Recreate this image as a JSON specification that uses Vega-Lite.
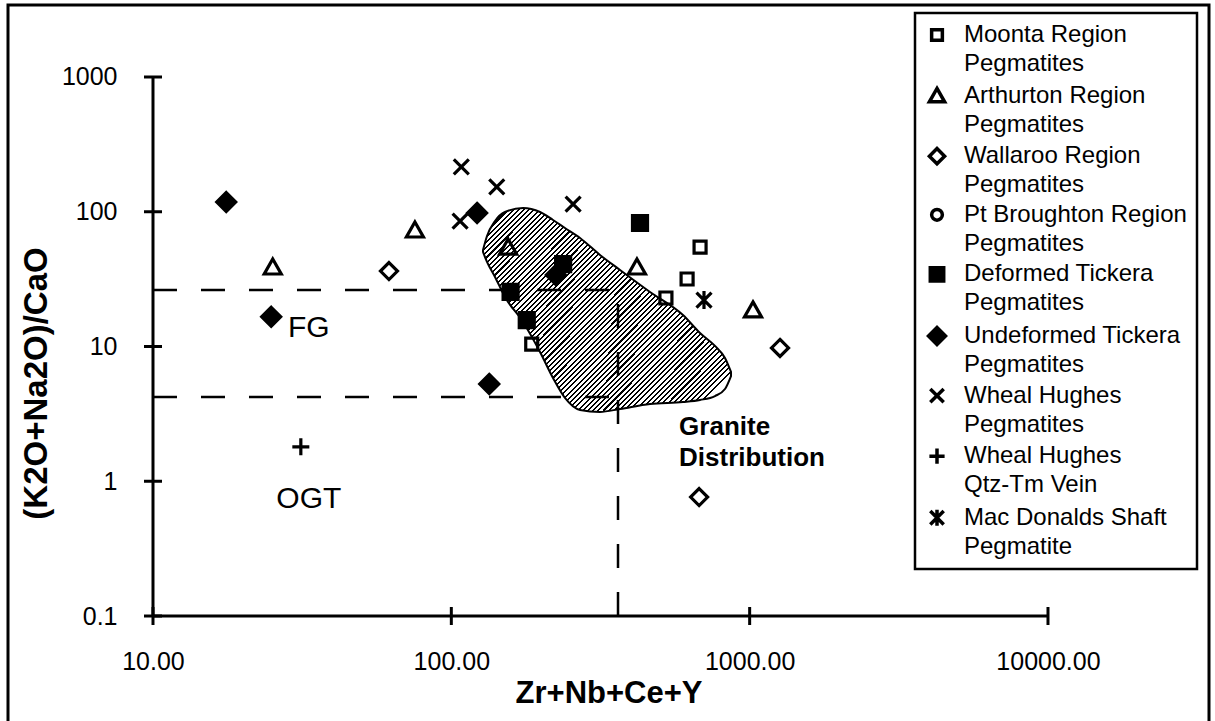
{
"$schema": "https://vega.github.io/schema/vega-lite/v6.json",
"width": 1201, "height": 716,
"autosize": {"type": "none"},
"padding": {"left": 8, "top": 5, "right": 6, "bottom": 0},
"background": "white",
"config": {
  "view": {"stroke": "black", "strokeWidth": 3, "strokeDash": [1917, 1201, 716]},
  "font": "Liberation Sans",
  "style": {"guide-label": {"lineHeight": 29}},
  "axis": {"grid": false, "domain": false, "ticks": false, "tickSize": 0, "labelColor": "black", "titleColor": "black", "labelFont": "Liberation Sans", "titleFont": "Liberation Sans", "labelFontSize": 25, "titleFontSize": 31, "titleFontWeight": "bold", "labelFlush": false, "labelOverlap": false, "labelBound": false},
  "legend": {"padding": 10, "strokeColor": "black", "strokeWidth": 2.5, "fillColor": "white", "labelFont": "Liberation Sans", "labelFontSize": 24, "labelColor": "black", "labelLimit": 400, "labelOffset": 15, "symbolSize": 320, "symbolStrokeWidth": 3.5, "symbolStrokeColor": "black", "rowPadding": 4.6}
},
"datasets": {
  "points": [
    {"series": "Moonta Region Pegmatites", "x": 186, "y": 10.4},
    {"series": "Moonta Region Pegmatites", "x": 524, "y": 22.9},
    {"series": "Moonta Region Pegmatites", "x": 617, "y": 31.7},
    {"series": "Moonta Region Pegmatites", "x": 682, "y": 54.7},
    {"series": "Arthurton Region Pegmatites", "x": 25.2, "y": 38.9},
    {"series": "Arthurton Region Pegmatites", "x": 75.5, "y": 73.2},
    {"series": "Arthurton Region Pegmatites", "x": 155, "y": 54.7},
    {"series": "Arthurton Region Pegmatites", "x": 419, "y": 38.9},
    {"series": "Arthurton Region Pegmatites", "x": 1026, "y": 18.7},
    {"series": "Wallaroo Region Pegmatites", "x": 61.8, "y": 36.3},
    {"series": "Wallaroo Region Pegmatites", "x": 1264, "y": 9.75},
    {"series": "Wallaroo Region Pegmatites", "x": 677, "y": 0.764},
    {"series": "Deformed Tickera Pegmatites", "x": 158, "y": 25.4},
    {"series": "Deformed Tickera Pegmatites", "x": 179, "y": 15.7},
    {"series": "Deformed Tickera Pegmatites", "x": 237, "y": 40.9},
    {"series": "Deformed Tickera Pegmatites", "x": 429, "y": 82.5},
    {"series": "Undeformed Tickera Pegmatites", "x": 17.6, "y": 118},
    {"series": "Undeformed Tickera Pegmatites", "x": 24.9, "y": 16.6},
    {"series": "Undeformed Tickera Pegmatites", "x": 122, "y": 98},
    {"series": "Undeformed Tickera Pegmatites", "x": 134, "y": 5.27},
    {"series": "Undeformed Tickera Pegmatites", "x": 224, "y": 33.9},
    {"series": "Wheal Hughes Pegmatites", "x": 107, "y": 85.3},
    {"series": "Wheal Hughes Pegmatites", "x": 108, "y": 215},
    {"series": "Wheal Hughes Pegmatites", "x": 142, "y": 153},
    {"series": "Wheal Hughes Pegmatites", "x": 256, "y": 114},
    {"series": "Wheal Hughes Qtz-Tm Vein", "x": 31.3, "y": 1.8},
    {"series": "Mac Donalds Shaft Pegmatite", "x": 703, "y": 22.1}
  ],
  "shape": [
    {"x": 127.7, "y": 52.0, "y2": 50.3},
    {"x": 131.7, "y": 66.1, "y2": 42.4},
    {"x": 140.1, "y": 85.4, "y2": 32.8},
    {"x": 151.3, "y": 99.6, "y2": 23.3},
    {"x": 173.9, "y": 106.6, "y2": 15.2},
    {"x": 198.3, "y": 99.6, "y2": 9.1},
    {"x": 219.2, "y": 86.9, "y2": 5.84},
    {"x": 240.4, "y": 75.8, "y2": 4.15},
    {"x": 270.0, "y": 63.9, "y2": 3.38},
    {"x": 315.0, "y": 47.8, "y2": 3.27},
    {"x": 367.7, "y": 37.0, "y2": 3.44},
    {"x": 463.4, "y": 25.4, "y2": 3.74},
    {"x": 597.7, "y": 17.1, "y2": 3.87},
    {"x": 681.6, "y": 12.6, "y2": 4.01},
    {"x": 765.3, "y": 10.1, "y2": 4.29},
    {"x": 826.6, "y": 8.22, "y2": 4.84},
    {"x": 866.0, "y": 6.47, "y2": 6.04}
  ],
  "dash": [
    {"x": 10, "x2": 362, "y": 26.3, "y2": 26.3},
    {"x": 10, "x2": 362, "y": 4.22, "y2": 4.22},
    {"x": 362, "x2": 362, "y": 0.1, "y2": 26.3}
  ],
  "axislines": [
    {"x": 10, "x2": 10000, "y": 0.1, "y2": 0.1},
    {"x": 10, "x2": 10, "y": 0.1, "y2": 1000}
  ],
  "yticks": [{"x": 10, "y": 0.1}, {"x": 10, "y": 1}, {"x": 10, "y": 10}, {"x": 10, "y": 100}, {"x": 10, "y": 1000}],
  "xticks": [{"x": 10, "y": 0.1}, {"x": 100, "y": 0.1}, {"x": 1000, "y": 0.1}, {"x": 10000, "y": 0.1}],
  "notes": [{"label": "FG", "x": 33.3, "y": 13.7}, {"label": "OGT", "x": 33.3, "y": 0.738}],
  "granite": [{"label": "Granite", "x": 580, "y": 2.53}, {"label": "Distribution", "x": 580, "y": 1.49}]
},
"encoding": {
  "x": {"field": "x", "type": "quantitative", "scale": {"type": "log", "domain": [3.2657, 34651], "nice": false, "zero": false},
        "axis": {"orient": "bottom", "offset": -105, "values": [10, 100, 1000, 10000], "format": ".2f", "labelPadding": 33, "title": "Zr+Nb+Ce+Y", "titlePadding": 4}},
  "y": {"field": "y", "type": "quantitative", "scale": {"type": "log", "domain": [0.016628, 3422.1], "nice": false, "zero": false},
        "axis": {"orient": "left", "offset": -145, "values": [0.1, 1, 10, 100, 1000], "format": "~g", "labelPadding": 36, "title": "(K2O+Na2O)/CaO", "titlePadding": 8, "titleFontSize": 33, "titleY": 378}}
},
"layer": [
  {"data": {"name": "shape"},
   "mark": {"type": "area", "interpolate": "monotone", "stroke": "black", "strokeWidth": 2, "opacity": 1,
     "fill": {"gradient": "linear", "x1": 0, "y1": 0, "x2": 1, "y2": 0.82, "stops": [
{"offset":0,"color":"#fff"},{"offset":0,"color":"#000"},{"offset":0.005,"color":"#000"},{"offset":0.005,"color":"#fff"},
{"offset":0.0125,"color":"#fff"},{"offset":0.0125,"color":"#000"},{"offset":0.0175,"color":"#000"},{"offset":0.0175,"color":"#fff"},
{"offset":0.025,"color":"#fff"},{"offset":0.025,"color":"#000"},{"offset":0.03,"color":"#000"},{"offset":0.03,"color":"#fff"},
{"offset":0.0375,"color":"#fff"},{"offset":0.0375,"color":"#000"},{"offset":0.0425,"color":"#000"},{"offset":0.0425,"color":"#fff"},
{"offset":0.05,"color":"#fff"},{"offset":0.05,"color":"#000"},{"offset":0.055,"color":"#000"},{"offset":0.055,"color":"#fff"},
{"offset":0.0625,"color":"#fff"},{"offset":0.0625,"color":"#000"},{"offset":0.0675,"color":"#000"},{"offset":0.0675,"color":"#fff"},
{"offset":0.075,"color":"#fff"},{"offset":0.075,"color":"#000"},{"offset":0.08,"color":"#000"},{"offset":0.08,"color":"#fff"},
{"offset":0.0875,"color":"#fff"},{"offset":0.0875,"color":"#000"},{"offset":0.0925,"color":"#000"},{"offset":0.0925,"color":"#fff"},
{"offset":0.1,"color":"#fff"},{"offset":0.1,"color":"#000"},{"offset":0.105,"color":"#000"},{"offset":0.105,"color":"#fff"},
{"offset":0.1125,"color":"#fff"},{"offset":0.1125,"color":"#000"},{"offset":0.1175,"color":"#000"},{"offset":0.1175,"color":"#fff"},
{"offset":0.125,"color":"#fff"},{"offset":0.125,"color":"#000"},{"offset":0.13,"color":"#000"},{"offset":0.13,"color":"#fff"},
{"offset":0.1375,"color":"#fff"},{"offset":0.1375,"color":"#000"},{"offset":0.1425,"color":"#000"},{"offset":0.1425,"color":"#fff"},
{"offset":0.15,"color":"#fff"},{"offset":0.15,"color":"#000"},{"offset":0.155,"color":"#000"},{"offset":0.155,"color":"#fff"},
{"offset":0.1625,"color":"#fff"},{"offset":0.1625,"color":"#000"},{"offset":0.1675,"color":"#000"},{"offset":0.1675,"color":"#fff"},
{"offset":0.175,"color":"#fff"},{"offset":0.175,"color":"#000"},{"offset":0.18,"color":"#000"},{"offset":0.18,"color":"#fff"},
{"offset":0.1875,"color":"#fff"},{"offset":0.1875,"color":"#000"},{"offset":0.1925,"color":"#000"},{"offset":0.1925,"color":"#fff"},
{"offset":0.2,"color":"#fff"},{"offset":0.2,"color":"#000"},{"offset":0.205,"color":"#000"},{"offset":0.205,"color":"#fff"},
{"offset":0.2125,"color":"#fff"},{"offset":0.2125,"color":"#000"},{"offset":0.2175,"color":"#000"},{"offset":0.2175,"color":"#fff"},
{"offset":0.225,"color":"#fff"},{"offset":0.225,"color":"#000"},{"offset":0.23,"color":"#000"},{"offset":0.23,"color":"#fff"},
{"offset":0.2375,"color":"#fff"},{"offset":0.2375,"color":"#000"},{"offset":0.2425,"color":"#000"},{"offset":0.2425,"color":"#fff"},
{"offset":0.25,"color":"#fff"},{"offset":0.25,"color":"#000"},{"offset":0.255,"color":"#000"},{"offset":0.255,"color":"#fff"},
{"offset":0.2625,"color":"#fff"},{"offset":0.2625,"color":"#000"},{"offset":0.2675,"color":"#000"},{"offset":0.2675,"color":"#fff"},
{"offset":0.275,"color":"#fff"},{"offset":0.275,"color":"#000"},{"offset":0.28,"color":"#000"},{"offset":0.28,"color":"#fff"},
{"offset":0.2875,"color":"#fff"},{"offset":0.2875,"color":"#000"},{"offset":0.2925,"color":"#000"},{"offset":0.2925,"color":"#fff"},
{"offset":0.3,"color":"#fff"},{"offset":0.3,"color":"#000"},{"offset":0.305,"color":"#000"},{"offset":0.305,"color":"#fff"},
{"offset":0.3125,"color":"#fff"},{"offset":0.3125,"color":"#000"},{"offset":0.3175,"color":"#000"},{"offset":0.3175,"color":"#fff"},
{"offset":0.325,"color":"#fff"},{"offset":0.325,"color":"#000"},{"offset":0.33,"color":"#000"},{"offset":0.33,"color":"#fff"},
{"offset":0.3375,"color":"#fff"},{"offset":0.3375,"color":"#000"},{"offset":0.3425,"color":"#000"},{"offset":0.3425,"color":"#fff"},
{"offset":0.35,"color":"#fff"},{"offset":0.35,"color":"#000"},{"offset":0.355,"color":"#000"},{"offset":0.355,"color":"#fff"},
{"offset":0.3625,"color":"#fff"},{"offset":0.3625,"color":"#000"},{"offset":0.3675,"color":"#000"},{"offset":0.3675,"color":"#fff"},
{"offset":0.375,"color":"#fff"},{"offset":0.375,"color":"#000"},{"offset":0.38,"color":"#000"},{"offset":0.38,"color":"#fff"},
{"offset":0.3875,"color":"#fff"},{"offset":0.3875,"color":"#000"},{"offset":0.3925,"color":"#000"},{"offset":0.3925,"color":"#fff"},
{"offset":0.4,"color":"#fff"},{"offset":0.4,"color":"#000"},{"offset":0.405,"color":"#000"},{"offset":0.405,"color":"#fff"},
{"offset":0.4125,"color":"#fff"},{"offset":0.4125,"color":"#000"},{"offset":0.4175,"color":"#000"},{"offset":0.4175,"color":"#fff"},
{"offset":0.425,"color":"#fff"},{"offset":0.425,"color":"#000"},{"offset":0.43,"color":"#000"},{"offset":0.43,"color":"#fff"},
{"offset":0.4375,"color":"#fff"},{"offset":0.4375,"color":"#000"},{"offset":0.4425,"color":"#000"},{"offset":0.4425,"color":"#fff"},
{"offset":0.45,"color":"#fff"},{"offset":0.45,"color":"#000"},{"offset":0.455,"color":"#000"},{"offset":0.455,"color":"#fff"},
{"offset":0.4625,"color":"#fff"},{"offset":0.4625,"color":"#000"},{"offset":0.4675,"color":"#000"},{"offset":0.4675,"color":"#fff"},
{"offset":0.475,"color":"#fff"},{"offset":0.475,"color":"#000"},{"offset":0.48,"color":"#000"},{"offset":0.48,"color":"#fff"},
{"offset":0.4875,"color":"#fff"},{"offset":0.4875,"color":"#000"},{"offset":0.4925,"color":"#000"},{"offset":0.4925,"color":"#fff"},
{"offset":0.5,"color":"#fff"},{"offset":0.5,"color":"#000"},{"offset":0.505,"color":"#000"},{"offset":0.505,"color":"#fff"},
{"offset":0.5125,"color":"#fff"},{"offset":0.5125,"color":"#000"},{"offset":0.5175,"color":"#000"},{"offset":0.5175,"color":"#fff"},
{"offset":0.525,"color":"#fff"},{"offset":0.525,"color":"#000"},{"offset":0.53,"color":"#000"},{"offset":0.53,"color":"#fff"},
{"offset":0.5375,"color":"#fff"},{"offset":0.5375,"color":"#000"},{"offset":0.5425,"color":"#000"},{"offset":0.5425,"color":"#fff"},
{"offset":0.55,"color":"#fff"},{"offset":0.55,"color":"#000"},{"offset":0.555,"color":"#000"},{"offset":0.555,"color":"#fff"},
{"offset":0.5625,"color":"#fff"},{"offset":0.5625,"color":"#000"},{"offset":0.5675,"color":"#000"},{"offset":0.5675,"color":"#fff"},
{"offset":0.575,"color":"#fff"},{"offset":0.575,"color":"#000"},{"offset":0.58,"color":"#000"},{"offset":0.58,"color":"#fff"},
{"offset":0.5875,"color":"#fff"},{"offset":0.5875,"color":"#000"},{"offset":0.5925,"color":"#000"},{"offset":0.5925,"color":"#fff"},
{"offset":0.6,"color":"#fff"},{"offset":0.6,"color":"#000"},{"offset":0.605,"color":"#000"},{"offset":0.605,"color":"#fff"},
{"offset":0.6125,"color":"#fff"},{"offset":0.6125,"color":"#000"},{"offset":0.6175,"color":"#000"},{"offset":0.6175,"color":"#fff"},
{"offset":0.625,"color":"#fff"},{"offset":0.625,"color":"#000"},{"offset":0.63,"color":"#000"},{"offset":0.63,"color":"#fff"},
{"offset":0.6375,"color":"#fff"},{"offset":0.6375,"color":"#000"},{"offset":0.6425,"color":"#000"},{"offset":0.6425,"color":"#fff"},
{"offset":0.65,"color":"#fff"},{"offset":0.65,"color":"#000"},{"offset":0.655,"color":"#000"},{"offset":0.655,"color":"#fff"},
{"offset":0.6625,"color":"#fff"},{"offset":0.6625,"color":"#000"},{"offset":0.6675,"color":"#000"},{"offset":0.6675,"color":"#fff"},
{"offset":0.675,"color":"#fff"},{"offset":0.675,"color":"#000"},{"offset":0.68,"color":"#000"},{"offset":0.68,"color":"#fff"},
{"offset":0.6875,"color":"#fff"},{"offset":0.6875,"color":"#000"},{"offset":0.6925,"color":"#000"},{"offset":0.6925,"color":"#fff"},
{"offset":0.7,"color":"#fff"},{"offset":0.7,"color":"#000"},{"offset":0.705,"color":"#000"},{"offset":0.705,"color":"#fff"},
{"offset":0.7125,"color":"#fff"},{"offset":0.7125,"color":"#000"},{"offset":0.7175,"color":"#000"},{"offset":0.7175,"color":"#fff"},
{"offset":0.725,"color":"#fff"},{"offset":0.725,"color":"#000"},{"offset":0.73,"color":"#000"},{"offset":0.73,"color":"#fff"},
{"offset":0.7375,"color":"#fff"},{"offset":0.7375,"color":"#000"},{"offset":0.7425,"color":"#000"},{"offset":0.7425,"color":"#fff"},
{"offset":0.75,"color":"#fff"},{"offset":0.75,"color":"#000"},{"offset":0.755,"color":"#000"},{"offset":0.755,"color":"#fff"},
{"offset":0.7625,"color":"#fff"},{"offset":0.7625,"color":"#000"},{"offset":0.7675,"color":"#000"},{"offset":0.7675,"color":"#fff"},
{"offset":0.775,"color":"#fff"},{"offset":0.775,"color":"#000"},{"offset":0.78,"color":"#000"},{"offset":0.78,"color":"#fff"},
{"offset":0.7875,"color":"#fff"},{"offset":0.7875,"color":"#000"},{"offset":0.7925,"color":"#000"},{"offset":0.7925,"color":"#fff"},
{"offset":0.8,"color":"#fff"},{"offset":0.8,"color":"#000"},{"offset":0.805,"color":"#000"},{"offset":0.805,"color":"#fff"},
{"offset":0.8125,"color":"#fff"},{"offset":0.8125,"color":"#000"},{"offset":0.8175,"color":"#000"},{"offset":0.8175,"color":"#fff"},
{"offset":0.825,"color":"#fff"},{"offset":0.825,"color":"#000"},{"offset":0.83,"color":"#000"},{"offset":0.83,"color":"#fff"},
{"offset":0.8375,"color":"#fff"},{"offset":0.8375,"color":"#000"},{"offset":0.8425,"color":"#000"},{"offset":0.8425,"color":"#fff"},
{"offset":0.85,"color":"#fff"},{"offset":0.85,"color":"#000"},{"offset":0.855,"color":"#000"},{"offset":0.855,"color":"#fff"},
{"offset":0.8625,"color":"#fff"},{"offset":0.8625,"color":"#000"},{"offset":0.8675,"color":"#000"},{"offset":0.8675,"color":"#fff"},
{"offset":0.875,"color":"#fff"},{"offset":0.875,"color":"#000"},{"offset":0.88,"color":"#000"},{"offset":0.88,"color":"#fff"},
{"offset":0.8875,"color":"#fff"},{"offset":0.8875,"color":"#000"},{"offset":0.8925,"color":"#000"},{"offset":0.8925,"color":"#fff"},
{"offset":0.9,"color":"#fff"},{"offset":0.9,"color":"#000"},{"offset":0.905,"color":"#000"},{"offset":0.905,"color":"#fff"},
{"offset":0.9125,"color":"#fff"},{"offset":0.9125,"color":"#000"},{"offset":0.9175,"color":"#000"},{"offset":0.9175,"color":"#fff"},
{"offset":0.925,"color":"#fff"},{"offset":0.925,"color":"#000"},{"offset":0.93,"color":"#000"},{"offset":0.93,"color":"#fff"},
{"offset":0.9375,"color":"#fff"},{"offset":0.9375,"color":"#000"},{"offset":0.9425,"color":"#000"},{"offset":0.9425,"color":"#fff"},
{"offset":0.95,"color":"#fff"},{"offset":0.95,"color":"#000"},{"offset":0.955,"color":"#000"},{"offset":0.955,"color":"#fff"},
{"offset":0.9625,"color":"#fff"},{"offset":0.9625,"color":"#000"},{"offset":0.9675,"color":"#000"},{"offset":0.9675,"color":"#fff"},
{"offset":0.975,"color":"#fff"},{"offset":0.975,"color":"#000"},{"offset":0.98,"color":"#000"},{"offset":0.98,"color":"#fff"},
{"offset":0.9875,"color":"#fff"},{"offset":0.9875,"color":"#000"},{"offset":0.9925,"color":"#000"},{"offset":0.9925,"color":"#fff"}
     ]}},
   "encoding": {"y2": {"field": "y2"}}},
  {"data": {"name": "dash"},
   "mark": {"type": "rule", "color": "black", "strokeWidth": 2.5, "strokeDash": [24, 24]},
   "encoding": {"x2": {"field": "x2"}, "y2": {"field": "y2"}}},
  {"data": {"name": "axislines"},
   "mark": {"type": "rule", "color": "black", "strokeWidth": 3},
   "encoding": {"x2": {"field": "x2"}, "y2": {"field": "y2"}}},
  {"data": {"name": "yticks"},
   "mark": {"type": "tick", "orient": "horizontal", "size": 18, "thickness": 3, "color": "black", "opacity": 1},
   "encoding": {}},
  {"data": {"name": "xticks"},
   "mark": {"type": "tick", "orient": "vertical", "size": 18, "thickness": 3, "color": "black", "opacity": 1},
   "encoding": {}},
  {"data": {"name": "points"},
   "mark": {"type": "point", "size": 400, "strokeWidth": 3.2, "opacity": 1, "fillOpacity": 1, "strokeOpacity": 1},
   "encoding": {
     "fill": {"field": "series", "type": "nominal",
       "scale": {"domain": ["Moonta Region Pegmatites", "Arthurton Region Pegmatites", "Wallaroo Region Pegmatites", "Pt Broughton Region Pegmatites", "Deformed Tickera Pegmatites", "Undeformed Tickera Pegmatites", "Wheal Hughes Pegmatites", "Wheal Hughes Qtz-Tm Vein", "Mac Donalds Shaft Pegmatite"],
                 "range": ["transparent", "transparent", "transparent", "transparent", "black", "black", "transparent", "transparent", "transparent"]},
       "legend": {"orient": "none", "legendX": 907, "legendY": 8, "title": null, "symbolSize": 320, "symbolStrokeWidth": 3.5, "labelExpr": "datum.label == 'Wheal Hughes Qtz-Tm Vein' ? ['Wheal Hughes', 'Qtz-Tm Vein'] : [slice(datum.label, 0, lastindexof(datum.label, ' ')), slice(datum.label, lastindexof(datum.label, ' ') + 1)]"}},
     "stroke": {"field": "series", "type": "nominal",
       "scale": {"domain": ["Moonta Region Pegmatites", "Arthurton Region Pegmatites", "Wallaroo Region Pegmatites", "Pt Broughton Region Pegmatites", "Deformed Tickera Pegmatites", "Undeformed Tickera Pegmatites", "Wheal Hughes Pegmatites", "Wheal Hughes Qtz-Tm Vein", "Mac Donalds Shaft Pegmatite"],
                 "range": ["black", "black", "black", "black", "black", "black", "black", "black", "black"]},
       "legend": {"orient": "none", "legendX": 907, "legendY": 8, "title": null, "symbolSize": 320, "symbolStrokeWidth": 3.5, "labelExpr": "datum.label == 'Wheal Hughes Qtz-Tm Vein' ? ['Wheal Hughes', 'Qtz-Tm Vein'] : [slice(datum.label, 0, lastindexof(datum.label, ' ')), slice(datum.label, lastindexof(datum.label, ' ') + 1)]"}},
     "shape": {"field": "series", "type": "nominal",
       "scale": {"domain": ["Moonta Region Pegmatites", "Arthurton Region Pegmatites", "Wallaroo Region Pegmatites", "Pt Broughton Region Pegmatites", "Deformed Tickera Pegmatites", "Undeformed Tickera Pegmatites", "Wheal Hughes Pegmatites", "Wheal Hughes Qtz-Tm Vein", "Mac Donalds Shaft Pegmatite"],
                 "range": ["M-0.6,-0.6H0.6V0.6H-0.6Z", "M0,-0.8L0.85,0.7H-0.85Z", "M0,-0.85L0.85,0L0,0.85L-0.85,0Z", "M0.6,0A0.6,0.6,0,1,1,-0.6,0A0.6,0.6,0,1,1,0.6,0Z", "M-0.75,-0.75H0.75V0.75H-0.75Z", "M0,-0.95L0.95,0L0,0.95L-0.95,0Z", "M-0.75,-0.75L0.75,0.75M-0.75,0.75L0.75,-0.75", "M-0.85,0H0.85M0,-0.85V0.85", "M-0.75,-0.75L0.75,0.75M-0.75,0.75L0.75,-0.75M0,-0.9V0.9"]},
       "legend": {"orient": "none", "legendX": 907, "legendY": 8, "title": null, "symbolSize": 320, "symbolStrokeWidth": 3.5, "labelExpr": "datum.label == 'Wheal Hughes Qtz-Tm Vein' ? ['Wheal Hughes', 'Qtz-Tm Vein'] : [slice(datum.label, 0, lastindexof(datum.label, ' ')), slice(datum.label, lastindexof(datum.label, ' ') + 1)]"}}
   }},
  {"data": {"name": "notes"},
   "mark": {"type": "text", "font": "Liberation Sans", "fontSize": 30, "align": "center", "baseline": "middle", "color": "black"},
   "encoding": {"text": {"field": "label"}}},
  {"data": {"name": "granite"},
   "mark": {"type": "text", "font": "Liberation Sans", "fontSize": 26, "fontWeight": "bold", "align": "left", "baseline": "middle", "color": "black"},
   "encoding": {"text": {"field": "label"}}}
]
}
